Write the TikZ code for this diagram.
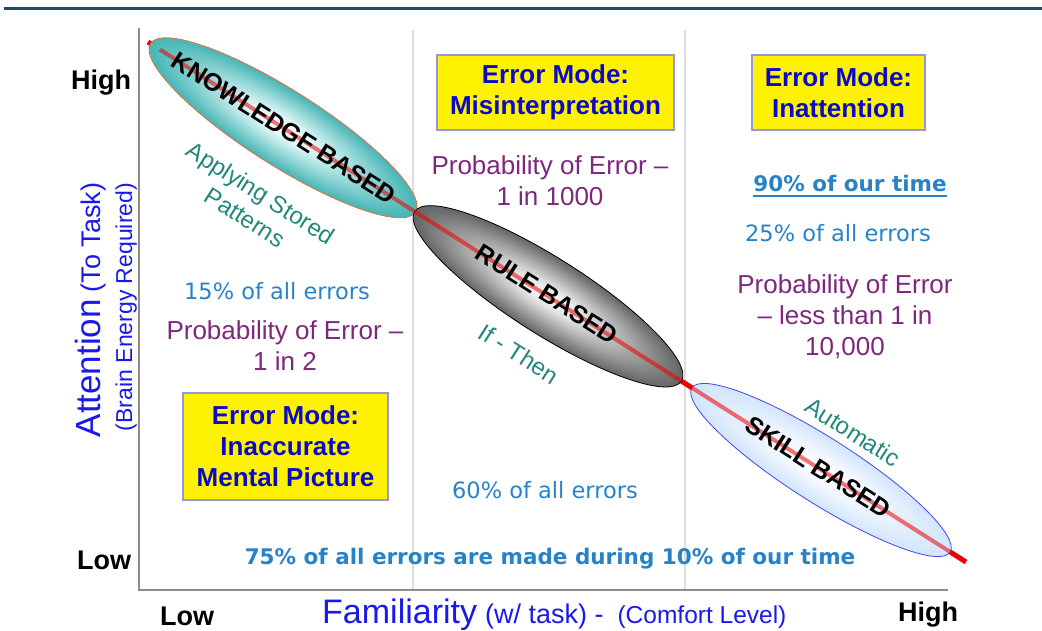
\documentclass[tikz,border=0pt]{standalone}
\usepackage{fontspec}
\setmainfont{Liberation Sans}
\newfontfamily\verd{DejaVu Sans}
\usetikzlibrary{shapes.geometric}
\definecolor{topline}{RGB}{28,78,108}
\definecolor{axisgray}{RGB}{140,140,140}
\definecolor{divgray}{RGB}{222,222,222}
\definecolor{axblue}{RGB}{25,25,235}
\definecolor{boxblue}{RGB}{10,10,200}
\definecolor{boxedge}{RGB}{150,150,220}
\definecolor{purp}{RGB}{125,40,125}
\definecolor{lblue}{RGB}{40,130,200}
\definecolor{tealtxt}{RGB}{35,135,125}
\definecolor{redl}{RGB}{240,0,0}
\definecolor{korange}{RGB}{230,110,60}
\definecolor{sblue}{RGB}{70,70,230}
\pgfdeclareradialshading{kshade}{\pgfpointorigin}{rgb(0bp)=(1,1,1); rgb(5bp)=(0.9,0.98,0.98); rgb(24bp)=(0.3,0.72,0.72); rgb(50bp)=(0.06,0.56,0.56); rgb(100bp)=(0.06,0.56,0.56)}
\pgfdeclareradialshading{rshade}{\pgfpointorigin}{rgb(0bp)=(1,1,1); rgb(7bp)=(0.88,0.88,0.88); rgb(24bp)=(0.42,0.42,0.42); rgb(40bp)=(0.08,0.08,0.08); rgb(50bp)=(0,0,0); rgb(100bp)=(0,0,0)}
\pgfdeclareradialshading{sshade}{\pgfpointorigin}{rgb(0bp)=(1,1,1); rgb(10bp)=(0.95,0.97,1); rgb(50bp)=(0.6,0.78,0.96); rgb(100bp)=(0.6,0.78,0.96)}
\tikzset{
  axl/.style={font=\bfseries\fontsize{27}{27}\selectfont, inner sep=0},
  ybox/.style={draw=boxedge, fill=yellow, line width=1.2pt, text=boxblue, font=\bfseries\fontsize{26}{31}\selectfont, align=center, inner sep=0},
  ptxt/.style={text=purp, font=\fontsize{26}{31}\selectfont, align=center, inner sep=0},
  btxt/.style={text=lblue, font=\verd\fontsize{22.5}{27}\selectfont, inner sep=0},
  bbtxt/.style={text=lblue, font=\verd\bfseries\fontsize{21.5}{26}\selectfont, inner sep=0},
  ttxt/.style={text=tealtxt, font=\fontsize{24}{29}\selectfont, align=center, rotate=-32.45, inner sep=0},
  elab/.style={font=\bfseries\fontsize{25}{25}\selectfont, rotate=-32.45, inner sep=0},
  ell/.style={ellipse, inner sep=0, line width=0.8pt, shade},
}
\begin{document}
\begin{tikzpicture}[x=1pt,y=-1pt]
\useasboundingbox (0,0) rectangle (1042,631);
% top rule
\coordinate (t1) at (4,8.5);
\coordinate (t2) at (1042,8.5);
\draw[topline, line width=2.5pt] (t1) -- (t2);
% dividers
\coordinate (d1a) at (413,30); \coordinate (d1b) at (413,590);
\coordinate (d2a) at (685,30); \coordinate (d2b) at (685,590);
\draw[divgray, line width=1.5pt] (d1a) -- (d1b);
\draw[divgray, line width=1.5pt] (d2a) -- (d2b);
% axes
\coordinate (ytop) at (139,28);
\coordinate (orig) at (139,590);
\coordinate (xend) at (948,590);
\draw[axisgray, line width=1.8pt] (ytop) -- (orig) -- (xend);
% red line
\coordinate (ls) at (148,42);
\coordinate (le) at (966,562);
\draw[redl, line width=5pt] (ls) -- (le);
% ellipses
\begin{scope}[transform canvas={shift={(283,127.8)},rotate=-32.45}]
\node[ell, minimum width=314pt, minimum height=75pt, draw=korange, shading=kshade] (kb) at (0,0) {};
\end{scope}
\begin{scope}[transform canvas={shift={(548,296.3)},rotate=-32.45}]
\node[ell, minimum width=316pt, minimum height=76pt, draw=black, shading=rshade] (rb) at (0,0) {};
\end{scope}
\begin{scope}[transform canvas={shift={(821,470)},rotate=-32.45}]
\node[ell, minimum width=306pt, minimum height=65pt, draw=sblue, shading=sshade] (sb) at (0,0) {};
\end{scope}
\coordinate (ks) at (160,49.6);
\coordinate (ke) at (950,551.8);
\draw[redl, line width=4pt, opacity=0.55] (ks) -- (ke);
% ellipse labels
\node[elab] (kbl) at (284,128) {KNOWLEDGE BASED};
\node[elab] (rbl) at (547,294) {RULE BASED};
\node[elab] (sbl) at (818,467) {SKILL BASED};
% teal labels
\node[ttxt] (asp) at (253,205) {Applying Stored\\Patterns};
\node[ttxt] (ift) at (519,354) {If - Then};
\node[ttxt] (aut) at (853,432) {Automatic};
% yellow boxes
\node[ybox, minimum width=237pt, minimum height=75pt] (bm) at (555.5,92.5) {Error Mode:\\Misinterpretation};
\node[ybox, minimum width=173pt, minimum height=75pt] (bi) at (838.5,92.5) {Error Mode:\\Inattention};
\node[ybox, minimum width=205pt, minimum height=107pt] (bp) at (285.5,446.5) {Error Mode:\\Inaccurate\\Mental Picture};
% purple
\node[ptxt] (p1) at (550,181) {Probability of Error –\\1 in 1000};
\node[ptxt] (p2) at (845,317) {Probability of Error\\– less than 1 in\\10,000};
\node[ptxt] (p3) at (285,346) {Probability of Error –\\1 in 2};
% blue
\node[btxt] (e15) at (277,291) {15\% of all errors};
\node[bbtxt] (t90) at (850,183) {90\% of our time};
\draw[lblue, line width=1.8pt] ([yshift=-5pt]t90.base west) -- ([yshift=-5pt]t90.base east);
\node[btxt] (e25) at (838,233) {25\% of all errors};
\node[btxt] (e60) at (545,490) {60\% of all errors};
\node[bbtxt] (e75) at (550,559) {75\% of all errors are made during 10\% of our time};
% axis labels
\node[axl] (hy) at (101,83) {High};
\node[axl] (ly) at (104,560) {Low};
\node[axl] (lx) at (187,616) {Low};
\node[axl] (hx) at (928,615) {High};
\node[text=axblue, anchor=base west, inner sep=0] (fam) at (322,623) {{\fontsize{34}{34}\selectfont Familiarity}\hspace{8pt}{\fontsize{27}{27}\selectfont (w/ task) -}\hspace{14pt}{\fontsize{24.5}{24.5}\selectfont (Comfort Level)}};
\node[text=axblue, anchor=base, rotate=90, inner sep=0] (att) at (100,310) {{\fontsize{35}{35}\selectfont Attention}\hspace{7pt}{\fontsize{27}{27}\selectfont (To Task)}};
\node[text=axblue, anchor=base, rotate=90, inner sep=0] (bre) at (132,307) {\fontsize{23}{23}\selectfont (Brain Energy Required)};
\end{tikzpicture}
\end{document}
